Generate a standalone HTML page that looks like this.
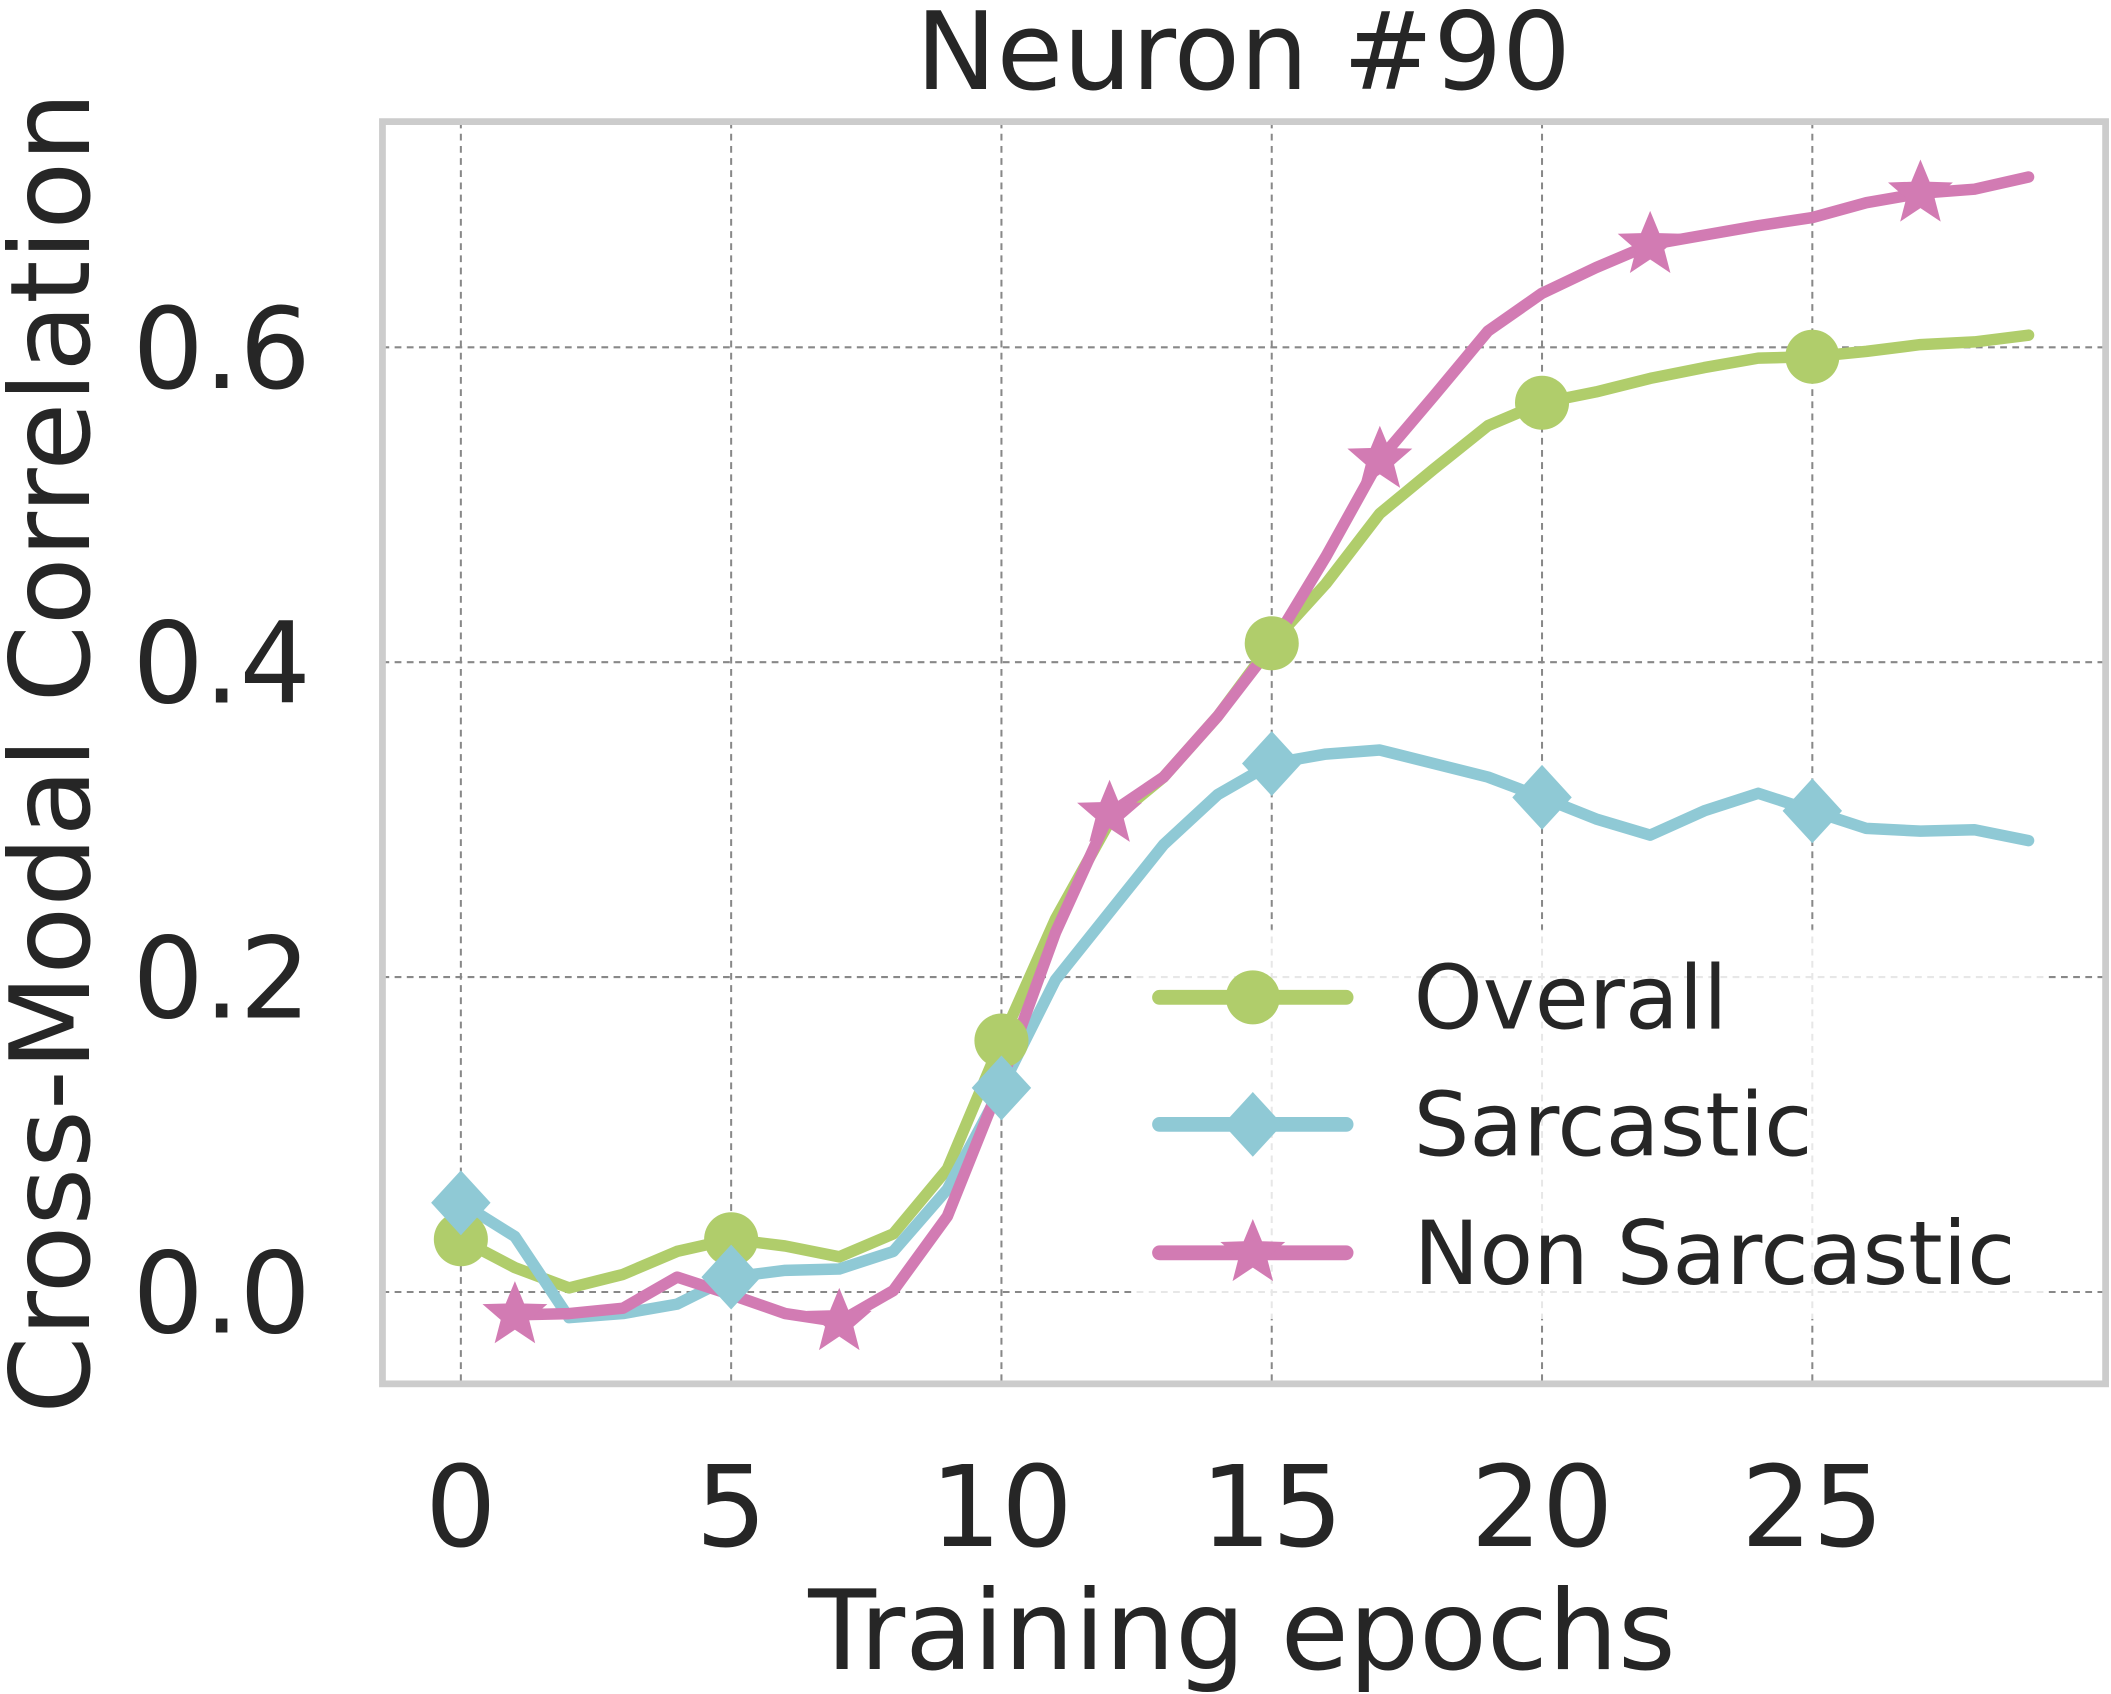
<!DOCTYPE html>
<html><head><style>html,body{margin:0;padding:0;background:#fff}svg{display:block}</style></head>
<body>
<svg width="2111" height="1694" viewBox="0 0 1562 1253.5" preserveAspectRatio="none" xmlns="http://www.w3.org/2000/svg" font-family="DejaVu Sans, Liberation Sans, sans-serif" fill="#262626">
<defs>
<path id="st" d="M0,-25 L6.8,-8.5 L24,-8 L10.5,3.7 L15,21 L0,11 L-15,21 L-10.5,3.7 L-24,-8 L-6.8,-8.5 Z"/>
<path id="dm" d="M0,-24 L22,0 L0,24 L-22,0 Z"/>
</defs>
<rect x="283" y="90" width="1275" height="934" fill="#fff"/>
<g stroke="#888" stroke-width="1.5" stroke-dasharray="5,4">
<line x1="341" y1="90" x2="341" y2="1024"/><line x1="541" y1="90" x2="541" y2="1024"/><line x1="741" y1="90" x2="741" y2="1024"/><line x1="941" y1="90" x2="941" y2="1024"/><line x1="1141" y1="90" x2="1141" y2="1024"/><line x1="1341" y1="90" x2="1341" y2="1024"/>
<line x1="283" y1="257" x2="1558" y2="257"/><line x1="283" y1="490" x2="1558" y2="490"/><line x1="283" y1="723" x2="1558" y2="723"/><line x1="283" y1="956" x2="1558" y2="956"/>
</g>
<g fill="none" stroke-width="8.5" stroke-linejoin="round" stroke-linecap="round">
<polyline stroke="#b0cd6b" points="341,917 381,938 421,953 461,943 501,926 541,917 581,922 621,930 661,913 701,865 741,770 781,680 821,608 861,575 901,530 941,476 981,432 1021,380 1061,347 1101,315 1141,298 1181,290 1221,280 1261,272 1301,265 1341,264 1381,260 1421,255 1461,253 1501,248"/>
<polyline stroke="#8fc9d5" points="341,890 381,915 421,975 461,972 501,965 541,945 581,940 621,939 661,926 701,880 741,805 781,725 821,675 861,625 901,588 941,565 981,558 1021,555 1061,565 1101,575 1141,590 1181,606 1221,618 1261,600 1301,587 1341,600 1381,613 1421,615 1461,614 1501,622"/>
<polyline stroke="#d27bb3" points="381,973 421,972 461,968 501,945 541,958 581,972 621,978 661,955 701,900 741,800 781,690 821,602 861,575 901,530 941,478 981,412 1021,340 1061,293 1101,245 1141,217 1181,198 1221,181 1261,174 1301,167 1341,161 1381,150 1421,143 1461,140 1501,131"/>
</g>
<g fill="#b0cd6b"><circle cx="341" cy="917" r="20"/><circle cx="541" cy="917" r="20"/><circle cx="741" cy="770" r="20"/><circle cx="941" cy="476" r="20"/><circle cx="1141" cy="298" r="20"/><circle cx="1341" cy="264" r="20"/></g>
<g fill="#8fc9d5"><use href="#dm" x="341" y="890"/><use href="#dm" x="541" y="945"/><use href="#dm" x="741" y="805"/><use href="#dm" x="941" y="565"/><use href="#dm" x="1141" y="590"/><use href="#dm" x="1341" y="600"/></g>
<g fill="#d27bb3"><use href="#st" x="381" y="973"/><use href="#st" x="621" y="978"/><use href="#st" x="821" y="602"/><use href="#st" x="1021" y="340"/><use href="#st" x="1221" y="181"/><use href="#st" x="1421" y="143"/></g>
<rect x="283" y="90" width="1275" height="934" fill="none" stroke="#cccccc" stroke-width="5"/>
<rect x="838" y="688" width="676" height="288" fill="#fff" fill-opacity="0.8"/>
<g stroke-width="11" stroke-linecap="round">
<line x1="858" y1="738" x2="996" y2="738" stroke="#b0cd6b"/>
<line x1="858" y1="832" x2="996" y2="832" stroke="#8fc9d5"/>
<line x1="858" y1="927" x2="996" y2="927" stroke="#d27bb3"/>
</g>
<circle cx="927" cy="738" r="20" fill="#b0cd6b"/>
<use href="#dm" x="927" y="832" fill="#8fc9d5"/>
<use href="#st" x="927" y="927" fill="#d27bb3"/>
<g font-size="65"><text x="1046" y="761">Overall</text><text x="1046" y="855">Sarcastic</text><text x="1046" y="950">Non Sarcastic</text></g>
<g font-size="83" text-anchor="end"><text x="230" y="287">0.6</text><text x="230" y="520">0.4</text><text x="230" y="753">0.2</text><text x="230" y="986">0.0</text></g>
<g font-size="83" text-anchor="middle"><text x="341" y="1144">0</text><text x="541" y="1144">5</text><text x="741" y="1144">10</text><text x="941" y="1144">15</text><text x="1141" y="1144">20</text><text x="1341" y="1144">25</text></g>
<text x="919" y="1235" font-size="82" text-anchor="middle">Training epochs</text>
<text x="920" y="66" font-size="80" text-anchor="middle">Neuron #90</text>
<text transform="translate(66,557) rotate(-90)" font-size="82" text-anchor="middle">Cross-Modal Correlation</text>
</svg>
</body></html>
